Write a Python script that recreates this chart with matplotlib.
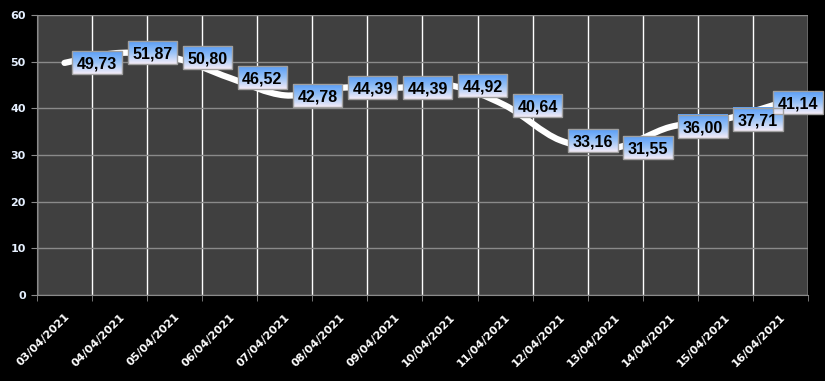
import numpy as np
import matplotlib
matplotlib.use("Agg")
import matplotlib.pyplot as plt
from matplotlib.path import Path
from matplotlib.patches import PathPatch, Rectangle
from matplotlib.ticker import MultipleLocator

# Data
dates = ["03/04/2021", "04/04/2021", "05/04/2021", "06/04/2021", "07/04/2021",
         "08/04/2021", "09/04/2021", "10/04/2021", "11/04/2021", "12/04/2021",
         "13/04/2021", "14/04/2021", "15/04/2021", "16/04/2021"]
values = [49.73, 51.87, 50.80, 46.52, 42.78, 44.39, 44.39, 44.92, 40.64,
          33.16, 31.55, 36.00, 37.71, 41.14]

BG = "#000000"
PLOT_BG = "#404040"
LABEL_FONT = ["Liberation Sans", "DejaVu Sans"]


def smooth_path(xs, ys):
    """Bezier path through the points (Excel-like smoothed line)."""
    pts = np.column_stack([xs, ys])
    verts = [pts[0]]
    codes = [Path.MOVETO]
    n = len(pts)
    for i in range(n - 1):
        p0 = pts[i - 1] if i > 0 else pts[i]
        p1 = pts[i]
        p2 = pts[i + 1]
        p3 = pts[i + 2] if i + 2 < n else pts[i + 1]
        c1 = p1 + (p2 - p0) / 6.0
        c2 = p2 - (p3 - p1) / 6.0
        verts += [c1, c2, p2]
        codes += [Path.CURVE4] * 3
    return Path(verts, codes)


fig = plt.figure(figsize=(8.25, 3.81), dpi=100, facecolor=BG)
ax = fig.add_axes([0.0448, 0.2257, 0.9345, 0.735])
ax.set_facecolor(PLOT_BG)

x = np.arange(len(dates))
ax.set_xlim(-0.5, len(dates) - 0.5)
ax.set_ylim(0, 60)

# grid
ax.yaxis.set_major_locator(MultipleLocator(10))
ax.set_xticks(x)
ax.set_xticks(np.arange(-0.5, len(dates), 1.0), minor=True)
ax.grid(axis="y", which="major", color="#8a8a8a", linewidth=1)
ax.grid(axis="x", which="minor", color="#ffffff", linewidth=1)
ax.set_axisbelow(True)

for s in ["top", "right"]:
    ax.spines[s].set_visible(False)
for s in ["left", "bottom"]:
    ax.spines[s].set_color("#8a8a8a")

ax.tick_params(axis="x", which="major", length=0, pad=12)
ax.tick_params(axis="x", which="minor", length=4, color="#8a8a8a")
ax.tick_params(axis="y", length=4, color="#8a8a8a", labelcolor="#e6f0ff", labelsize=8, pad=4)
for lab in ax.get_yticklabels():
    lab.set_fontweight("bold")

ax.set_xticklabels(dates, rotation=45, ha="right", va="top", rotation_mode="anchor",
                   color="white", fontsize=8, fontweight="bold")

# smoothed white line
ax.add_patch(PathPatch(smooth_path(x, values), facecolor="none", edgecolor="white",
                       linewidth=4.5, capstyle="round", joinstyle="round", zorder=3))

# data labels
texts = []
for xi, v in zip(x, values):
    t = ax.annotate(f"{v:.2f}".replace(".", ","), (xi, v), xytext=(9, 0),
                    textcoords="offset points", ha="left", va="center_baseline",
                    fontsize=11.5, fontweight="bold", color="black", zorder=6,
                    family=LABEL_FONT, annotation_clip=False)
    texts.append(t)

fig.canvas.draw()
renderer = fig.canvas.get_renderer()
fig_w = fig.get_figwidth() * fig.dpi

# push the last label back so its text ends just inside the figure
last = texts[-1]
bb = last.get_window_extent(renderer)
over = bb.x1 - (fig_w - 7)
if over > 0:
    last.xyann = (9 - over * 72.0 / fig.dpi, 0)
    fig.canvas.draw()

# vertical gradient for the label boxes: blue on top, pale lavender at the bottom
stops = np.array([0.0, 0.5, 1.0])
cols = np.array([[0x58, 0x9d, 0xf7], [0x98, 0xc2, 0xf6], [0xf4, 0xec, 0xf8]]) / 255.0
g = np.linspace(0, 1, 64)
img = np.stack([np.interp(g, stops, cols[:, c]) for c in range(3)], axis=-1)[:, None, :]

inv = ax.transData.inverted()
for t, xi, v in zip(texts, x, values):
    bb = t.get_window_extent(renderer)
    cy = ax.transData.transform((xi, v))[1]
    bx0, bx1 = bb.x0 - 4.5, bb.x1 + 4.5
    by0, by1 = cy - 11.5, cy + 11.5
    (x0, y0), (x1, y1) = inv.transform([[bx0, by0], [bx1, by1]])
    im = ax.imshow(img, extent=(x0, x1, y0, y1), origin="upper", aspect="auto",
                   zorder=5, interpolation="bilinear")
    im.set_clip_on(False)
    ax.add_patch(Rectangle((x0, y0), x1 - x0, y1 - y0, facecolor="none",
                           edgecolor="#a0a0a0", linewidth=1, zorder=5.5,
                           clip_on=False))

ax.set_xlim(-0.5, len(dates) - 0.5)
ax.set_ylim(0, 60)

fig.savefig("out.png", dpi=100, facecolor=BG)
